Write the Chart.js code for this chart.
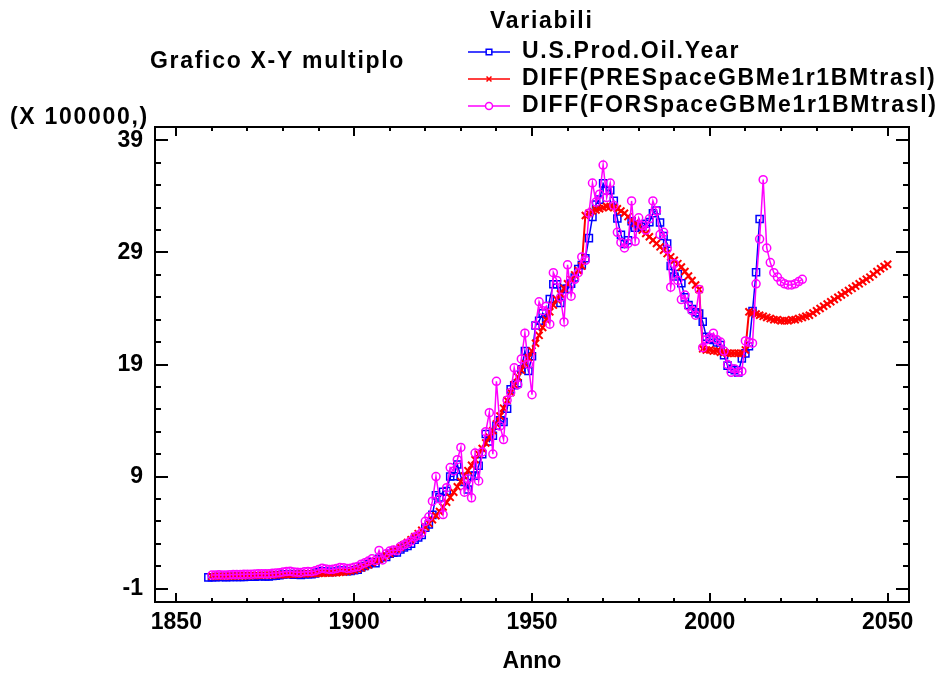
<!DOCTYPE html>
<html>
<head>
<meta charset="utf-8">
<title>Grafico X-Y multiplo</title>
<script src="https://cdn.jsdelivr.net/npm/chart.js@4.4.1/dist/chart.umd.min.js"></script>
<style>
    html, body { margin: 0; padding: 0; background: #fff; }
    #chart { display: block; }
</style>
</head>
<body>
<canvas id="chart" width="945" height="675"></canvas>
<script>
// --- data (values in units of 100000) ---
const prodStart = 1859;   // U.S.Prod.Oil.Year, one value per year
const prodValues = [
    0.00,
    0.01, 0.02, 0.03, 0.03, 0.02, 0.03, 0.04, 0.03, 0.04, 0.04,
    0.05, 0.05, 0.06, 0.10, 0.11, 0.09, 0.09, 0.13, 0.15, 0.20,
    0.26, 0.28, 0.30, 0.23, 0.24, 0.22, 0.28, 0.28, 0.28, 0.35,
    0.46, 0.54, 0.51, 0.48, 0.49, 0.53, 0.61, 0.60, 0.55, 0.57,
    0.64, 0.69, 0.89, 1.01, 1.17, 1.35, 1.26, 1.66, 1.79, 1.83,
    2.10, 2.21, 2.23, 2.48, 2.66, 2.81, 3.01, 3.35, 3.56, 3.78,
    4.43, 4.72, 5.58, 7.32, 7.14, 7.64, 7.71, 9.01, 9.02, 10.07,
    8.98, 8.51, 7.85, 9.06, 9.08, 9.97, 10.99, 12.79, 12.14, 12.64,
    13.53, 14.02, 13.86, 15.05, 16.78, 17.14, 17.33, 18.57, 20.20, 18.42,
    19.74, 22.48, 22.90, 23.57, 23.15, 24.84, 26.17, 26.17, 24.49, 25.75,
    25.75, 26.22, 26.76, 27.53, 27.87, 28.49, 30.28, 32.16, 33.29, 33.72,
    35.17, 34.54, 34.55, 33.61, 32.03, 30.57, 29.76, 30.09, 31.78, 31.21,
    31.46, 31.29, 31.57, 31.71, 32.50, 32.75, 31.68, 30.47, 29.79, 27.79,
    26.85, 27.07, 26.25, 24.99, 24.31, 23.94, 23.66, 23.55, 22.82, 21.47,
    21.31, 21.18, 20.97, 20.73, 19.83, 18.90, 18.62, 18.48, 18.30, 19.53,
    19.99, 20.63, 23.78, 27.24, 31.99
];

const preStart = 1860;    // DIFF(PRESpaceGBMe1r1BMtrasl)
const preValues = [
    0.10, 0.10, 0.11, 0.11, 0.12, 0.12, 0.13, 0.13, 0.14, 0.15,
    0.15, 0.16, 0.17, 0.18, 0.19, 0.20, 0.21, 0.22, 0.23, 0.24,
    0.25, 0.26, 0.27, 0.28, 0.29, 0.30, 0.31, 0.32, 0.33, 0.34,
    0.36, 0.37, 0.38, 0.39, 0.40, 0.42, 0.45, 0.48, 0.52, 0.58,
    0.65, 0.75, 0.85, 0.98, 1.12, 1.30, 1.45, 1.62, 1.78, 1.95,
    2.12, 2.30, 2.48, 2.68, 2.90, 3.12, 3.36, 3.62, 3.90, 4.20,
    4.50, 4.82, 5.15, 5.50, 5.88, 6.28, 6.70, 7.14, 7.60, 8.08,
    8.56, 9.04, 9.52, 10.0, 10.5, 11.0, 11.5, 12.0, 12.5, 13.1,
    13.7, 14.4, 15.1, 15.8, 16.5, 17.2, 17.9, 18.5, 19.1, 19.6,
    20.2, 20.9, 21.6, 22.3, 23.0, 23.7, 24.3, 24.8, 25.3, 25.8,
    26.2, 26.6, 27.0, 27.4, 27.8, 32.3, 32.5, 32.7, 32.8, 32.9,
    33.0, 33.1, 33.1, 33.0, 32.9, 32.7, 32.5, 32.2, 31.9, 31.6,
    31.3, 31.0, 30.7, 30.4, 30.1, 29.8, 29.5, 29.2, 28.9, 28.6,
    28.3, 28.0, 27.7, 27.3, 26.9, 26.5, 26.1, 25.7, 20.4, 20.3,
    20.3, 20.2, 20.2, 20.1, 20.1, 20.0, 20.0, 20.0, 20.0, 20.0,
    20.3, 23.7, 23.6, 23.5, 23.4, 23.3, 23.2, 23.1, 23.0, 23.0,
    22.9, 22.9, 22.9, 23.0, 23.0, 23.1, 23.2, 23.3, 23.4, 23.6,
    23.8, 24.0, 24.2, 24.4, 24.6, 24.8, 25.0, 25.2, 25.4, 25.6,
    25.8, 26.0, 26.2, 26.4, 26.6, 26.8, 27.05, 27.3, 27.55, 27.75,
    27.95
];

const forStart = 1860;    // DIFF(FORSpaceGBMe1r1BMtrasl)
const forValues = [
    0.20, 0.22, 0.24, 0.22, 0.22, 0.24, 0.25, 0.25, 0.26, 0.27,
    0.28, 0.28, 0.30, 0.32, 0.33, 0.32, 0.33, 0.36, 0.38, 0.42,
    0.48, 0.52, 0.55, 0.47, 0.46, 0.44, 0.50, 0.52, 0.50, 0.58,
    0.70, 0.82, 0.75, 0.70, 0.72, 0.78, 0.88, 0.86, 0.80, 0.82,
    0.90, 0.96, 1.18, 1.30, 1.45, 1.65, 1.50, 2.40, 1.55, 2.10,
    2.35, 2.45, 2.40, 2.75, 2.90, 3.05, 3.25, 3.60, 3.75, 4.00,
    5.00, 5.40, 6.80, 9.00, 7.00, 5.60, 8.00, 9.80, 9.50, 10.5,
    11.6, 7.60, 8.80, 7.10, 11.1, 8.60, 11.2, 13.0, 14.7, 11.0,
    17.5, 13.5, 12.3, 15.8, 16.5, 18.7, 17.2, 19.5, 21.8, 19.0,
    16.3, 22.5, 24.6, 23.8, 24.2, 22.6, 27.2, 26.5, 25.0, 22.8,
    27.9, 25.1, 26.6, 27.2, 28.6, 28.3, 32.5, 35.2, 33.5, 34.2,
    36.8, 33.9, 35.2, 33.2, 30.8, 29.9, 29.4, 29.8, 33.6, 30.0,
    32.1, 31.4, 31.0, 32.0, 33.6, 32.7, 30.6, 30.8, 29.3, 25.9,
    28.0, 26.5, 24.8, 25.2, 24.2, 23.8, 23.4, 25.7, 20.5, 21.2,
    21.4, 21.8, 21.2, 21.0, 20.2, 19.0, 18.3, 18.6, 18.3, 18.4,
    21.1, 21.0, 20.9, 26.2, 30.2, 35.5, 29.4, 28.1, 27.2, 26.8,
    26.4, 26.2, 26.1, 26.1, 26.2, 26.4, 26.6
];

const seriesNames = [
    'U.S.Prod.Oil.Year',
    'DIFF(PRESpaceGBMe1r1BMtrasl)',
    'DIFF(FORSpaceGBMe1r1BMtrasl)'
];
const seriesColors = ['#0000ff', '#ff0000', '#ff00ff'];
const seriesMarkers = ['rect', 'crossRot', 'circle'];

const xTicks = [1850, 1900, 1950, 2000, 2050];
const xMinorTicks = [1850, 1860, 1870, 1880, 1890, 1900, 1910, 1920, 1930, 1940, 1950,
    1960, 1970, 1980, 1990, 2000, 2010, 2020, 2030, 2040, 2050];
const yTicks = [-1, 9, 19, 29, 39];
const yMinorTicks = [-1, 1, 3, 5, 7, 9, 11, 13, 15, 17, 19, 21, 23, 25, 27, 29,
    31, 33, 35, 37, 39];

// --- helpers ---
const FONT_FAMILY = '"Liberation Sans", Arial, Helvetica, sans-serif';
const boldFont = { family: FONT_FAMILY, size: 23, weight: 'bold' };

function toPoints(start, values) {
    return values.map((v, i) => ({ x: start + i, y: v }));
}

// frame with inward tick marks on all four sides
const framePlugin = {
    id: 'frame',
    afterDatasetsDraw(chart) {
        const { ctx, chartArea: a, scales: { x, y } } = chart;
        ctx.save();
        ctx.strokeStyle = '#000';
        ctx.lineWidth = 2;
        ctx.strokeRect(a.left, a.top, a.right - a.left, a.bottom - a.top);
        ctx.beginPath();
        xMinorTicks.forEach(v => {
            const px = Math.round(x.getPixelForValue(v));
            const len = xTicks.includes(v) ? 9 : 4;
            ctx.moveTo(px, a.bottom);
            ctx.lineTo(px, a.bottom - len);
            ctx.moveTo(px, a.top);
            ctx.lineTo(px, a.top + len);
        });
        yMinorTicks.forEach(v => {
            const py = Math.round(y.getPixelForValue(v));
            const len = yTicks.includes(v) ? 13 : 6;
            ctx.moveTo(a.left, py);
            ctx.lineTo(a.left + len, py);
            ctx.moveTo(a.right, py);
            ctx.lineTo(a.right - len, py);
        });
        ctx.stroke();
        ctx.restore();
    }
};

// title, unit label and the "Variabili" legend
const labelsPlugin = {
    id: 'labels',
    afterDraw(chart) {
        const ctx = chart.ctx;
        ctx.save();
        ctx.font = 'bold 23px ' + FONT_FAMILY;
        ctx.fillStyle = '#000';
        ctx.textBaseline = 'middle';
        ctx.textAlign = 'left';
        if ('letterSpacing' in ctx) ctx.letterSpacing = '1.7px';

        ctx.fillText('Grafico X-Y multiplo', 150, 62);
        ctx.fillText('(X 100000,)', 10, 118);
        ctx.fillText('Variabili', 490, 22);

        const rowsY = [52, 79, 106];
        seriesNames.forEach((name, i) => {
            const yy = rowsY[i];
            ctx.fillStyle = '#000';
            ctx.fillText(name, 522, yy);

            ctx.strokeStyle = seriesColors[i];
            ctx.lineWidth = 1.5;
            ctx.beginPath();
            ctx.moveTo(468, yy);
            ctx.lineTo(510, yy);
            ctx.stroke();
            ctx.fillStyle = '#fff';
            Chart.helpers.drawPoint(ctx, {
                pointStyle: seriesMarkers[i],
                radius: seriesMarkers[i] === 'rect' ? 4 : 3.5,
                rotation: 0,
                borderWidth: 1.5
            }, 489, yy);
        });
        ctx.restore();
    }
};

function makeDataset(i, start, values, extra) {
    return Object.assign({
        label: seriesNames[i],
        data: toPoints(start, values),
        borderColor: seriesColors[i],
        backgroundColor: 'rgba(0,0,0,0)',
        pointBackgroundColor: 'rgba(0,0,0,0)',
        pointStyle: seriesMarkers[i],
        borderWidth: 1.5,
        pointBorderWidth: 1.5
    }, extra);
}

new Chart(document.getElementById('chart'), {
    type: 'line',
    data: {
        datasets: [
            makeDataset(0, prodStart, prodValues, { pointRadius: 5, order: 2 }),
            makeDataset(1, preStart, preValues, { pointRadius: 5, pointBorderWidth: 2, borderWidth: 2, order: 1 }),
            makeDataset(2, forStart, forValues, { pointRadius: 4, order: 0 })
        ]
    },
    options: {
        responsive: false,
        animation: false,
        devicePixelRatio: 1,
        layout: { padding: { top: 127, right: 36, left: 0, bottom: 0 } },
        plugins: {
            legend: { display: false },
            tooltip: { enabled: false }
        },
        scales: {
            x: {
                type: 'linear',
                min: 1844,
                max: 2056,
                afterFit: s => { s.height = 73; },
                afterBuildTicks: s => { s.ticks = xTicks.map(v => ({ value: v })); },
                grid: { display: false, drawTicks: false },
                border: { display: false },
                ticks: {
                    font: boldFont,
                    color: '#000',
                    padding: 7,
                    maxRotation: 0,
                    callback: v => String(v)
                },
                title: {
                    display: true,
                    text: 'Anno',
                    font: boldFont,
                    color: '#000',
                    padding: 0
                }
            },
            y: {
                type: 'linear',
                min: -2.2,
                max: 40.2,
                afterFit: s => { s.width = 155; },
                afterBuildTicks: s => { s.ticks = yTicks.map(v => ({ value: v })); },
                grid: { display: false, drawTicks: false },
                border: { display: false },
                ticks: {
                    font: boldFont,
                    color: '#000',
                    padding: 12,
                    callback: v => String(v)
                }
            }
        }
    },
    plugins: [framePlugin, labelsPlugin]
});
</script>
</body>
</html>
